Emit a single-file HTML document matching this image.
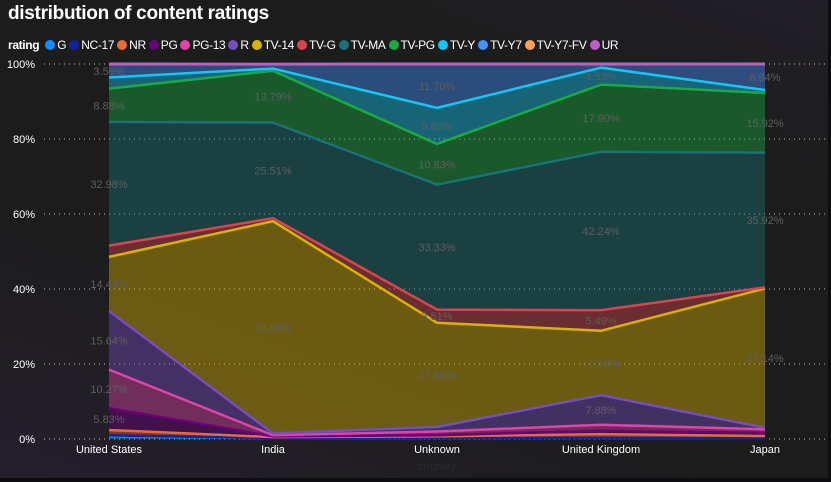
<!DOCTYPE html>
<html><head><meta charset="utf-8">
<style>
html,body{margin:0;padding:0;}
body{width:831px;height:482px;overflow:hidden;background:#0d0d10;font-family:"Segoe UI","Liberation Sans","DejaVu Sans",sans-serif;}
#card{position:absolute;left:0;top:0;width:828px;height:478px;background:linear-gradient(20deg,#261f2e 0%,#1c1c1c 35%,#1c1c1c 75%,#221f28 100%);}
#title{position:absolute;left:8px;top:3px;color:#fff;font-size:19px;font-weight:bold;letter-spacing:-0.3px;}
#legend{position:absolute;left:8px;top:37px;height:16px;color:#fff;font-size:12px;letter-spacing:-0.35px;display:flex;align-items:center;white-space:nowrap;}
#legend b{margin-right:6px;}
.li{display:flex;align-items:center;margin-right:3px;}
.dot{width:10px;height:10px;border-radius:50%;margin-right:2px;}
svg{position:absolute;left:0;top:0;}
</style></head><body>
<div id="card">
<div id="title">distribution of content ratings</div>
<div id="legend"><b>rating</b></div>
<svg id="chart" width="831" height="482"></svg>
</div>
<script>
const categories=["United States","India","Unknown","United Kingdom","Japan"];
const seriesNames=["G","NC-17","NR","PG","PG-13","R","TV-14","TV-G","TV-MA","TV-PG","TV-Y","TV-Y7","TV-Y7-FV","UR"];
const colors=["#118DFF","#12239E","#E66C37","#6B007B","#E044A7","#744EC2","#D9B300","#D64550","#197278","#1AAB40","#15C6F4","#4092FF","#FFA058","#BE5DC9"];
const sG=[0.7,0.2,0.3,0.3,0.2];
const sNC17=[0.3,0,0,0,0];
const sNR=[1.4,0.3,0.4,1.0,0.6];
const sPG=[5.83,0.2,0.3,0.9,0.8];
const sPG13=[10.27,0.3,1.0,1.6,1.0];
const sR=[15.64,0.5,1.2,7.88,0.4];
const sTV14=[14.43,56.58,27.80,17.18,37.14];
const sTVG=[3.0,0.8,3.51,5.49,0.3];
const sTVMA=[32.98,25.51,33.33,42.24,35.92];
const sTVPG=[8.88,13.79,10.83,17.90,15.92];
const sTVY=[2.97,0.6,9.63,4.53,0.78];
const sTVY7=[3.59,1.2,11.70,0.98,6.94];
const sTVY7FV=[0,0,0,0,0];
const sUR=[0,0,0,0,0];
const yTicks=[0,20,40,60,80,100];
const series=[sG,sNC17,sNR,sPG,sPG13,sR,sTV14,sTVG,sTVMA,sTVPG,sTVY,sTVY7,sTVY7FV,sUR];

const NS="http://www.w3.org/2000/svg";
const svg=document.getElementById('chart');
const x0=109,x1=765,yTop=64,yBot=439;
const xs=i=>x0+(x1-x0)*i/(categories.length-1);
const ys=v=>yBot-(yBot-yTop)*v/100;
function mk(t,a){const e=document.createElementNS(NS,t);for(const k in a)e.setAttribute(k,a[k]);return e;}

const leg=document.getElementById('legend');
seriesNames.forEach((n,i)=>{
  const d=document.createElement('span');d.className='li';
  
  
  d.innerHTML='<span class="dot" style="background:'+colors[i]+'"></span>'+n;
  leg.appendChild(d);
});

yTicks.forEach(t=>{
  const y=ys(t);
  const g=mk('line',{x1:44,x2:828,y1:y,y2:y,stroke:'#bfbfbf','stroke-width':1,'stroke-dasharray':'1 4'});
  
  
  svg.appendChild(g);
  const tx=mk('text',{x:35,y:y+4,'text-anchor':'end',fill:'#fff','font-size':11});
  
  
  tx.textContent=t+'%';svg.appendChild(tx);
});

const cum=[];let base=categories.map(()=>0);
series.forEach(s=>{const top=base.map((b,i)=>b+s[i]);cum.push({bot:base,top});base=top;});

cum.forEach((c,k)=>{
  let d='';
  c.top.forEach((v,i)=>{d+=(i?'L':'M')+xs(i)+','+ys(v);});
  for(let i=c.bot.length-1;i>=0;i--)d+='L'+xs(i)+','+ys(c.bot[i]);
  d+='Z';
  const a=mk('path',{d,fill:colors[k],'fill-opacity':0.42});
  
  
  svg.appendChild(a);
});
cum.forEach((c,k)=>{
  const pts=c.top.map((v,i)=>xs(i)+','+ys(v)).join(' ');
  const l=mk('polyline',{points:pts,fill:'none',stroke:colors[k],'stroke-width':2.5,'stroke-linejoin':'round'});
  
  
  svg.appendChild(l);
});
cum.forEach((c,k)=>{
  series[k].forEach((v,i)=>{
    if(v<3.5)return;
    const t=mk('text',{x:xs(i),y:ys((c.bot[i]+c.top[i])/2)+4,'text-anchor':'middle',fill:'#5f5f5f','font-size':11});
    
    
    t.textContent=v.toFixed(2)+'%';svg.appendChild(t);
  });
});
categories.forEach((c,i)=>{
  const t=mk('text',{x:xs(i),y:453,'text-anchor':'middle',fill:'#fff','font-size':11});
  
  
  t.textContent=c;svg.appendChild(t);
});
const at=mk('text',{x:437,y:470,'text-anchor':'middle',fill:'#2a2a2a','font-size':12});


at.textContent='country';svg.appendChild(at);
</script>
</body></html>
